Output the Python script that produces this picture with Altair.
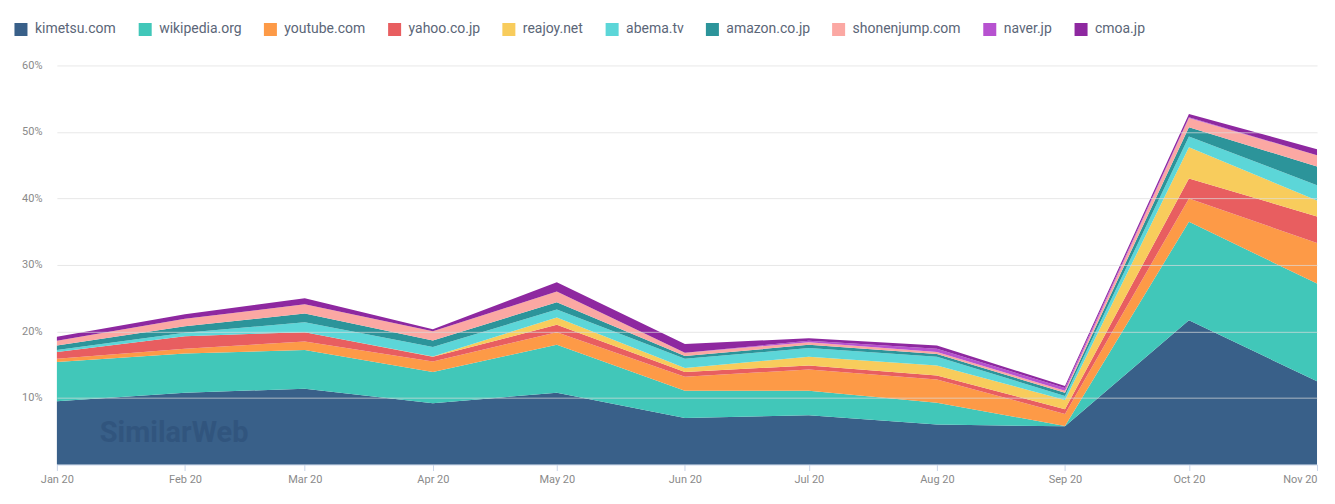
import altair as alt
import pandas as pd

months = ["2020-01-01T00:00:00", "2020-02-01T00:00:00", "2020-03-01T00:00:00",
          "2020-04-01T00:00:00", "2020-05-01T00:00:00", "2020-06-01T00:00:00",
          "2020-07-01T00:00:00", "2020-08-01T00:00:00", "2020-09-01T00:00:00",
          "2020-10-01T00:00:00", "2020-11-01T00:00:00"]

sites = ["kimetsu.com", "wikipedia.org", "youtube.com", "yahoo.co.jp", "reajoy.net",
         "abema.tv", "amazon.co.jp", "shonenjump.com", "naver.jp", "cmoa.jp"]
colors = ["#396089", "#41C7B9", "#FD9A47", "#E85E60", "#F8CC5C",
          "#5CD6D8", "#2C949A", "#FBA8A3", "#B752D0", "#8E28A0"]

# share of traffic, percent
kimetsu = [9.5, 10.8, 11.4, 9.2, 10.8, 7.0, 7.4, 6.0, 5.75, 21.7, 12.5]
wikipedia = [5.9, 5.9, 5.8, 4.7, 7.2, 4.1, 3.7, 3.3, 0.05, 14.8, 14.7]
youtube = [0.5, 0.7, 1.3, 1.6, 1.9, 2.1, 3.2, 3.5, 1.8, 3.5, 6.1]
yahoo = [1.0, 1.9, 1.4, 0.7, 1.1, 0.7, 0.6, 0.6, 0.7, 3.0, 4.0]
reajoy = [0.0, 0.0, 0.0, 0.05, 1.1, 0.6, 1.3, 1.5, 1.4, 4.7, 2.4]
abema = [0.3, 0.5, 1.5, 1.4, 1.2, 1.4, 1.3, 1.3, 0.6, 1.6, 2.3]
amazon = [0.7, 1.0, 1.3, 1.0, 1.1, 0.4, 0.5, 0.4, 0.5, 1.4, 2.8]
shonenjump = [0.7, 1.1, 1.4, 1.4, 1.6, 0.5, 0.4, 0.3, 0.3, 1.4, 1.7]
naver = [0.0, 0.0, 0.0, 0.0, 0.0, 0.0, 0.2, 0.5, 0.4, 0.1, 0.0]
cmoa = [0.6, 0.7, 0.9, 0.3, 1.4, 1.3, 0.4, 0.5, 0.3, 0.5, 0.9]

series = [kimetsu, wikipedia, youtube, yahoo, reajoy, abema, amazon, shonenjump, naver, cmoa]

rows = []
for i, (name, vals) in enumerate(zip(sites, series)):
    for m, v in zip(months, vals):
        rows.append({"month": m, "site": name, "share": v / 100.0, "order": i})
df = pd.DataFrame(rows)

x_ticks = [alt.DateTime(year=2020, month=k, date=1) for k in range(1, 12)]

area = alt.Chart(df).mark_area(opacity=1, interpolate="linear").encode(
    x=alt.X("month:T",
            scale=alt.Scale(domain=[alt.DateTime(year=2020, month=1, date=1),
                                    alt.DateTime(year=2020, month=11, date=1)], nice=False),
            axis=alt.Axis(title=None, values=x_ticks, format="%b %y", grid=False,
                          domainColor="#c9d5ea", tickColor="#c9d5ea", tickSize=6,
                          labelColor="#8a8a8a", labelFontSize=11, labelPadding=3,
                          labelAlign=alt.expr("datum.value >= time(datetime(2020, 9, 15)) ? 'right' : 'center'"))),
    y=alt.Y("share:Q", stack="zero",
            scale=alt.Scale(domain=[0, 0.6], nice=False),
            axis=alt.Axis(title=None, values=[0.1, 0.2, 0.3, 0.4, 0.5, 0.6], format=".0%",
                          domain=False, ticks=False, labelPadding=15,
                          labelColor="#8a8a8a", labelFontSize=11,
                          gridColor="#dcdcdc", gridOpacity=0.7, zindex=1)),
    color=alt.Color("site:N", scale=alt.Scale(domain=sites, range=colors),
                    legend=alt.Legend(title=None, orient="none", legendX=-43, legendY=-43,
                                      direction="horizontal", columns=10,
                                      symbolType="square", symbolSize=170,
                                      symbolStrokeWidth=0, symbolOpacity=1,
                                      labelFontSize=14, labelColor="#5b6678",
                                      labelOffset=7, columnPadding=21.5)),
    order=alt.Order("order:Q", sort="ascending"),
)

watermark = alt.Chart(pd.DataFrame({"t": ["SimilarWeb"]})).mark_text(
    fontSize=29, fontWeight="bold", color="#31557e", align="left", baseline="middle",
    font="Roboto"
).encode(x=alt.value(43), y=alt.value(368), text="t:N")

chart = alt.layer(area, watermark).properties(
    width=1263, height=400,
    autosize=alt.AutoSizeParams(type="none"),
    padding={"left": 49, "top": 57, "right": 10, "bottom": 30},
).configure(font="Roboto").configure_view(stroke=None)

chart.save("out.html", embed_options={"renderer": "svg", "actions": False})
